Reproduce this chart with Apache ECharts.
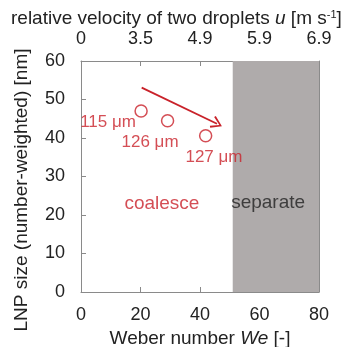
<!DOCTYPE html>
<html><head><meta charset="utf-8">
<script src="https://cdn.jsdelivr.net/npm/echarts@6/dist/echarts.min.js"></script>
<style>html,body{margin:0;padding:0;background:#fff}#c{width:347px;height:347px}</style>
</head><body><div id="c"></div>
<script>
// Data
const weber = [20.2, 29.1, 41.9];
const lnpSize = [47.0, 44.5, 40.6];
const dropletLabels = ['115 μm', '126 μm', '127 μm'];
const labelX = [9.1, 23.2, 44.7];
const labelY = [44.2, 39.0, 35.1];
const topTickLabels = ['0', '3.5', '4.9', '5.9', '6.9'];
const separateStart = 51;
const arrowStart = [20.4, 53.1];
const arrowEnd = [45.7, 43.7];
const regionText = ['coalesce', 'separate'];
const regionX = [27.2, 62.9];
const regionY = [22.9, 23.1];

const FONT = '"Liberation Sans", Arial, sans-serif';
const axisCol = '#8a8a8a';
const txt = '#222';
const red = '#c9222a';

const chart = echarts.init(document.getElementById('c'), null, {renderer: 'canvas'});
const baseAxis = {
  type: 'value', min: 0, max: 80, interval: 20,
  axisLine: {show: true, onZero: false, lineStyle: {color: axisCol, width: 1}},
  axisTick: {show: true, inside: true, length: 5, lineStyle: {color: axisCol}},
  splitLine: {show: false},
  axisLabel: {color: txt, fontSize: 18, fontFamily: FONT}
};
chart.setOption({
  animation: false,
  title: {
    text: '{n|relative velocity of two droplets }{i|u}{n| [m s}{s|-1}{n|]}',
    left: 11, top: 9, padding: 0,
    textStyle: {fontWeight: 'normal', rich: {
      n: {fontSize: 19, fontFamily: FONT, color: txt, fontWeight: 'normal'},
      i: {fontSize: 19, fontFamily: FONT, color: txt, fontStyle: 'italic', fontWeight: 'normal'},
      s: {fontSize: 11, fontFamily: FONT, color: txt, fontWeight: 'normal', verticalAlign: 'top', padding: [0, 0, 8, 0]}
    }}
  },
  graphic: [{
    type: 'text', x: 22, y: 190, rotation: Math.PI / 2,
    style: {text: 'LNP size (number-weighted) [nm]', fill: txt, font: '19px ' + FONT,
      align: 'center', verticalAlign: 'middle'}
  }],
  grid: {left: 81, right: 28, top: 61, bottom: 55, containLabel: false, outerBoundsMode: 'none'},
  xAxis: [
    Object.assign({}, baseAxis, {
      position: 'bottom',
      axisLabel: Object.assign({}, baseAxis.axisLabel, {margin: 14}),
      name: '{n|Weber number }{i|We}{n| [-]}',
      nameLocation: 'middle', nameGap: 36,
      nameTextStyle: {rich: {
        n: {fontSize: 19, fontFamily: FONT, color: txt},
        i: {fontSize: 19, fontFamily: FONT, color: txt, fontStyle: 'italic'}
      }}
    }),
    Object.assign({}, baseAxis, {
      position: 'top',
      axisLabel: Object.assign({}, baseAxis.axisLabel, {margin: 13,
        formatter: (v) => topTickLabels[Math.round(v / 20)]})
    })
  ],
  yAxis: [
    Object.assign({}, baseAxis, {
      min: 0, max: 60, interval: 10, position: 'left',
      axisLabel: Object.assign({}, baseAxis.axisLabel, {margin: 16})
    }),
    Object.assign({}, baseAxis, {
      min: 0, max: 60, interval: 10, position: 'right',
      axisLabel: {show: false}
    })
  ],
  series: [
    {
      type: 'scatter',
      data: weber.map((x, i) => [x, lnpSize[i]]),
      symbol: 'circle', symbolSize: 12,
      itemStyle: {color: 'rgba(0,0,0,0)', borderColor: red, borderWidth: 1.5},
      markArea: {
        silent: true,
        itemStyle: {color: '#afabab'},
        data: [[{xAxis: separateStart, yAxis: 0}, {xAxis: 80, yAxis: 60}]]
      },
      markLine: {
        silent: true,
        symbol: ['none', 'path://M5,0 L10,9 L8.8,10 L5,2.6 L1.2,10 L0,9 Z'],
        symbolSize: [13, 11],
        lineStyle: {color: red, width: 1.8, type: 'solid'},
        label: {show: false},
        data: [[{coord: arrowStart}, {coord: arrowEnd}]]
      },
      z: 5
    },
    {
      type: 'scatter', symbolSize: 0,
      data: labelX.map((x, i) => ({value: [x, labelY[i]], name: dropletLabels[i]})),
      label: {show: true, position: 'inside', formatter: (p) => p.name,
        color: red, fontSize: 17, fontFamily: FONT},
      z: 6
    },
    {
      type: 'scatter', symbolSize: 0,
      data: regionX.map((x, i) => ({value: [x, regionY[i]], name: regionText[i],
        label: {color: i === 0 ? red : txt}})),
      label: {show: true, position: 'inside', formatter: (p) => p.name,
        fontSize: 19, fontFamily: FONT},
      z: 6
    }
  ]
});
</script></body></html>
